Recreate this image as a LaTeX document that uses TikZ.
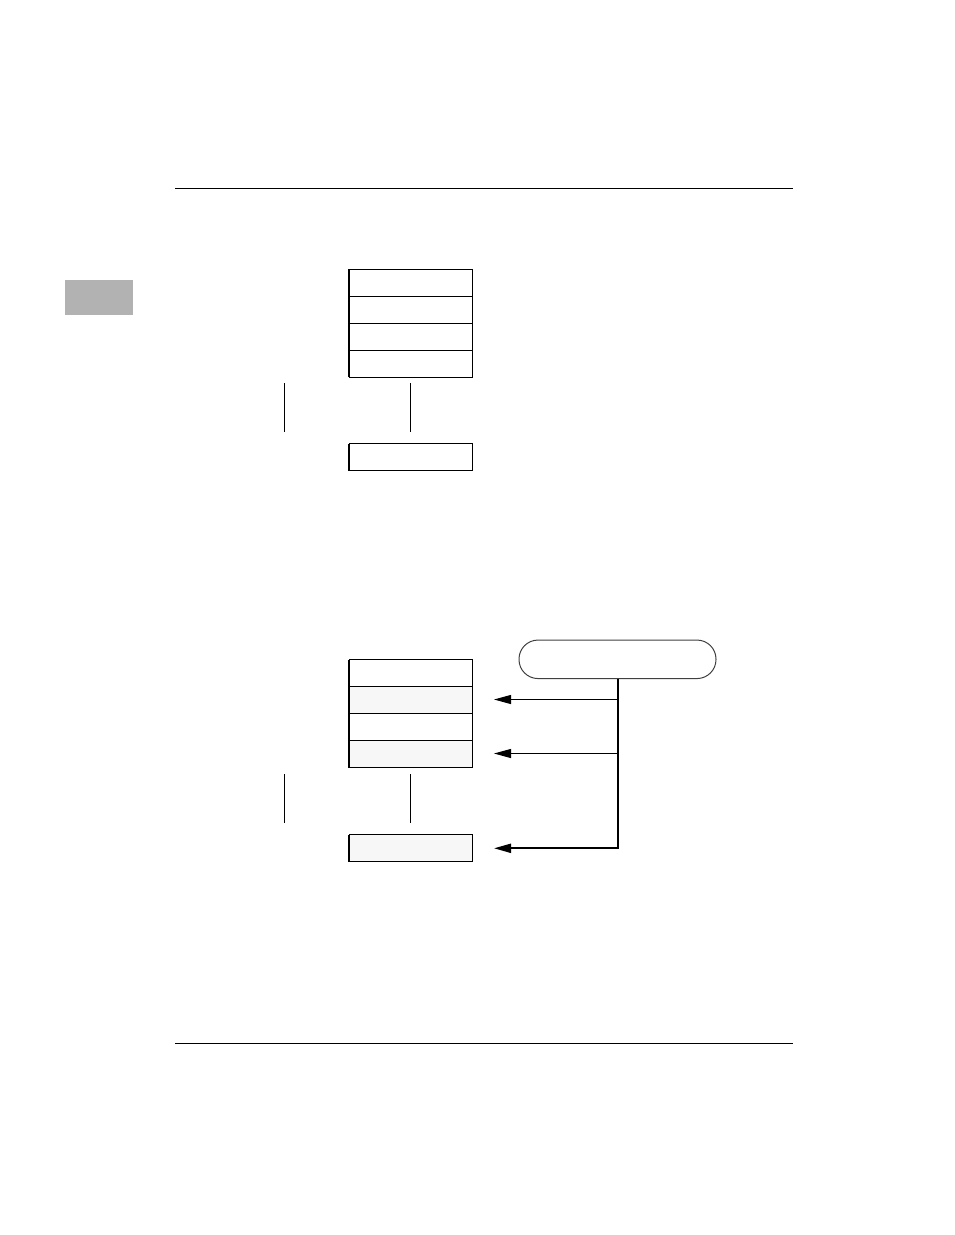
\documentclass[tikz,border=0pt]{standalone}
\usetikzlibrary{arrows.meta}
\begin{document}
\begin{tikzpicture}[x=1pt,y=-1pt,
  cell/.style={draw=black,line width=1pt,minimum width=123pt,minimum height=27pt,inner sep=0pt,outer sep=0pt,anchor=north west},
  shaded/.style={cell,fill=black!3},
  rule/.style={line width=1pt},
  thin/.style={line width=1pt},
  edge/.style={line width=2pt},
  pill/.style={draw=black!75,line width=1pt,rounded corners=19pt,minimum width=197pt,minimum height=38.5pt,inner sep=0pt,outer sep=0pt},
  arr/.style={line width=1pt,-{Triangle[length=17pt,width=9pt]}},
  arrthick/.style={line width=2pt,-{Triangle[length=17pt,width=9pt]}}]
\useasboundingbox (0,0) rectangle (954,1235);
% page rules
\coordinate (r1a) at (175,188); \coordinate (r1b) at (793,188);
\coordinate (r2a) at (175,1043); \coordinate (r2b) at (793,1043);
\draw[rule] (r1a) -- (r1b);
\draw[rule] (r2a) -- (r2b);
% gray tab
\node[fill=black!30,minimum width=68pt,minimum height=35pt,inner sep=0pt,anchor=north west] (tab) at (65,280) {};
% top stack
\node[cell] (a1) at (349,269) {};
\node[cell] (a2) at (349,296) {};
\node[cell] (a3) at (349,323) {};
\node[cell] (a4) at (349,350) {};
\draw[edge] (a1.north west) -- (a4.south west);
\coordinate (v1a) at (284,383); \coordinate (v1b) at (284,432);
\coordinate (v2a) at (410,383); \coordinate (v2b) at (410,432);
\draw[thin] (v1a) -- (v1b);
\draw[thin] (v2a) -- (v2b);
\node[cell] (a5) at (349,443.5) {};
\draw[edge] (a5.north west) -- (a5.south west);
% bottom stack
\node[cell] (b1) at (349,659.5) {};
\node[shaded] (b2) at (349,686.5) {};
\node[cell] (b3) at (349,713.5) {};
\node[shaded] (b4) at (349,740.5) {};
\draw[edge] (b1.north west) -- (b4.south west);
\coordinate (w1a) at (284,774); \coordinate (w1b) at (284,823);
\coordinate (w2a) at (410,774); \coordinate (w2b) at (410,823);
\draw[thin] (w1a) -- (w1b);
\draw[thin] (w2a) -- (w2b);
\node[shaded] (b5) at (349,834.5) {};
\draw[edge] (b5.north west) -- (b5.south west);
% pill and connectors
\node[pill] (p) at (617.5,659.3) {};
\coordinate (t1) at (494,699.5);
\coordinate (t2) at (494,753.5);
\coordinate (t3) at (494,848.3);
\draw[edge] (p.south) -- (p.south |- t3);
\draw[arr] (p.south |- t1) -- (t1);
\draw[arr] (p.south |- t2) -- (t2);
\draw[arrthick] ([xshift=1pt]p.south |- t3) -- (t3);
\end{tikzpicture}
\end{document}
